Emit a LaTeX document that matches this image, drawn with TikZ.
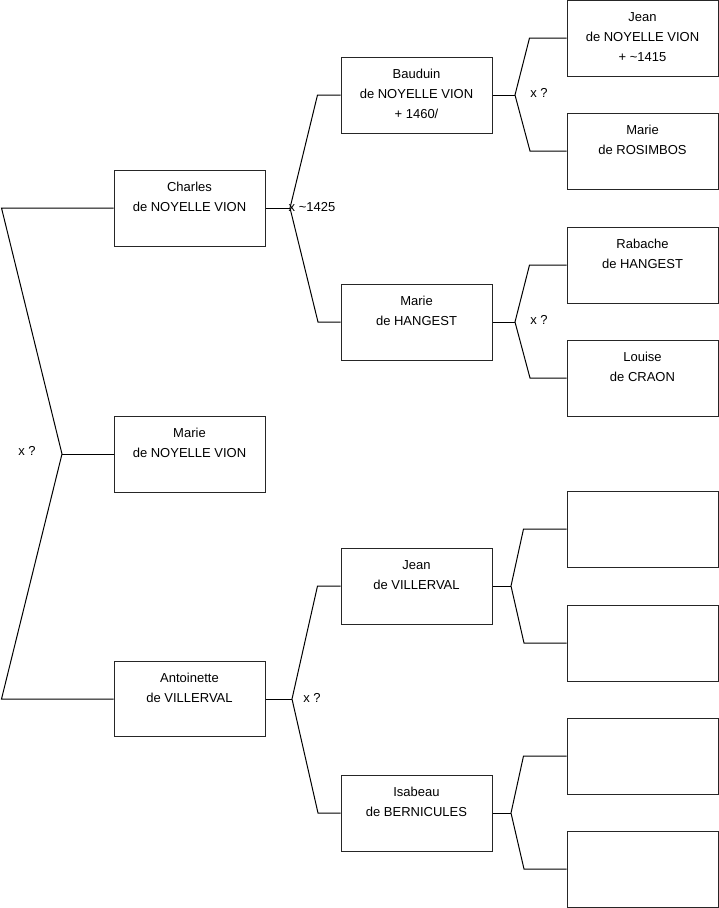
\documentclass[tikz,border=0pt]{standalone}
\usepackage{fontspec}
\setmainfont{Liberation Sans}
\newcommand\tstrut{\rule[-6.5pt]{0pt}{20pt}}
\begin{document}
\begin{tikzpicture}[x=1pt,y=-1pt,
  person/.style={draw=black!85, line width=1pt, minimum width=151pt, minimum height=76pt,
    inner sep=0pt, align=center, font=\fontsize{13}{20}\selectfont, fill=white},
  link/.style={draw=black, line width=1pt},
  lbl/.style={font=\fontsize{13}{15}\selectfont, inner sep=0pt}]
\useasboundingbox (0,0) rectangle (719,908);
% generation 1
\node[person] (charles) at (189.5,208) {\tstrut Charles\\\tstrut de NOYELLE VION\\\tstrut};
\node[person] (marienv) at (189.5,454) {\tstrut Marie\\\tstrut de NOYELLE VION\\\tstrut};
\node[person, minimum height=75pt] (antoinette) at (189.5,699) {\tstrut Antoinette\\\tstrut de VILLERVAL\\\tstrut};
% generation 2
\node[person] (bauduin) at (416.5,95) {\tstrut Bauduin\\\tstrut de NOYELLE VION\\\tstrut + 1460/};
\node[person] (mariehan) at (416.5,322) {\tstrut Marie\\\tstrut de HANGEST\\\tstrut};
\node[person] (jeanvil) at (416.5,586) {\tstrut Jean\\\tstrut de VILLERVAL\\\tstrut};
\node[person] (isabeau) at (416.5,813) {\tstrut Isabeau\\\tstrut de BERNICULES\\\tstrut};
% generation 3
\node[person] (jeannv) at (642.5,38) {\tstrut Jean\\\tstrut de NOYELLE VION\\\tstrut + \textasciitilde1415};
\node[person] (mariero) at (642.5,151) {\tstrut Marie\\\tstrut de ROSIMBOS\\\tstrut};
\node[person] (rabache) at (642.5,265) {\tstrut Rabache\\\tstrut de HANGEST\\\tstrut};
\node[person] (louise) at (642.5,378) {\tstrut Louise\\\tstrut de CRAON\\\tstrut};
\node[person] (e1) at (642.5,529) {};
\node[person] (e2) at (642.5,643) {};
\node[person] (e3) at (642.5,756) {};
\node[person] (e4) at (642.5,869) {};

% junctions
\coordinate (j0) at (62,454);
\coordinate (j1) at (290,208);
\coordinate (j2) at (292,699);
\coordinate (j3) at (515,95);
\coordinate (j4) at (515,322);
\coordinate (j5) at (511,586);
\coordinate (j6) at (511,813);

% left bracket
\draw[link] (charles.west) -- (1.5,208) -- (j0) -- (1.5,699) -- (antoinette.west);
\draw[link] (j0) -- (marienv.west);
% charles parents
\draw[link] (charles.east) -- (j1);
\draw[link] (bauduin.west) -- ++(-23,0) -- (j1) -- (318,322) -- (mariehan.west);
% antoinette parents
\draw[link] (antoinette.east) -- (j2);
\draw[link] (jeanvil.west) -- ++(-23,0) -- (j2) -- (318,813) -- (isabeau.west);
% bauduin parents
\draw[link] (bauduin.east) -- (j3);
\draw[link] (jeannv.west) -- ++(-37,0) -- (j3) -- (530,151) -- (mariero.west);
% marie hangest parents
\draw[link] (mariehan.east) -- (j4);
\draw[link] (rabache.west) -- ++(-37,0) -- (j4) -- (530,378) -- (louise.west);
% jean villerval parents
\draw[link] (jeanvil.east) -- (j5);
\draw[link] (e1.west) -- ++(-43,0) -- (j5) -- (524,643) -- (e2.west);
% isabeau parents
\draw[link] (isabeau.east) -- (j6);
\draw[link] (e3.west) -- ++(-43,0) -- (j6) -- (524,869) -- (e4.west);

% marriage labels
\node[lbl] (m0) at (27,451) {x ?};
\node[lbl, anchor=west] (m1) at (288.5,207) {x \textasciitilde1425};
\node[lbl] (m2) at (312,698) {x ?};
\node[lbl] (m3) at (539,93) {x ?};
\node[lbl] (m4) at (539,320) {x ?};
\end{tikzpicture}
\end{document}
